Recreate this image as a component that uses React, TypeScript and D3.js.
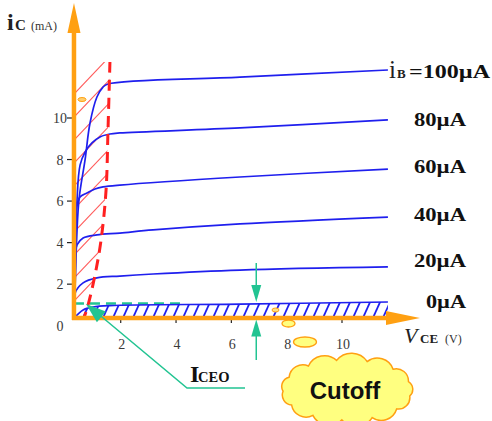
import React from 'react';
import * as d3 from 'd3';

const W = 492;
const H = 421;

// Tick values / labels
const xTickValues = [2, 4, 6, 8, 10];
const xTickLabels = ['2', '4', '6', '8', '10'];
const yTickValues = [2, 4, 6, 8, 10];
const yTickLabels = ['0', '2', '4', '6', '8', '10'];

// Output characteristic curves, [V_CE (V), i_C (mA)]
const ibLabels = ['=100µA', '80µA', '60µA', '40µA', '20µA', '0µA'];
const curve100: [number, number][] = [[0.33, 0.39], [0.38, 3.16], [0.49, 6.05], [0.71, 7.98], [0.89, 9.76], [1.14, 11.01], [1.36, 11.49], [1.54, 11.64], [6.31, 11.97], [11.66, 12.31]];
const curve80: [number, number][] = [[0.33, 0.39], [0.37, 3.16], [0.42, 6.05], [0.53, 7.73], [0.71, 8.36], [0.96, 8.8], [1.25, 9.09], [1.61, 9.23], [1.97, 9.28], [6.31, 9.52], [11.66, 9.91]];
const curve60: [number, number][] = [[0.33, 0.39], [0.35, 3.0], [0.38, 5.33], [0.42, 5.81], [0.53, 6.2], [0.78, 6.39], [1.07, 6.58], [1.36, 6.68], [1.97, 6.77], [6.31, 7.16], [11.66, 7.54]];
const curve40: [number, number][] = [[0.33, 0.39], [0.35, 3.4], [0.42, 3.89], [0.64, 4.22], [1.14, 4.37], [1.97, 4.46], [3.17, 4.61], [6.31, 4.9], [11.66, 5.23]];
const curve20: [number, number][] = [[0.33, 0.39], [0.35, 1.57], [0.64, 2.06], [1.14, 2.3], [1.97, 2.39], [3.17, 2.49], [6.31, 2.68], [11.66, 2.83]];
const curve0: [number, number][] = [[0.33, 0.39], [0.64, 0.76], [1.0, 0.9], [1.61, 0.97], [6.31, 1.04], [11.66, 1.14]];
const curves = [curve100, curve80, curve60, curve40, curve20, curve0];

// Saturation boundary (red dashed), [V, mA]
const satLocus: [number, number][] = [[1.61, 12.7], [1.54, 9.42], [1.47, 6.53], [1.29, 4.13], [1.07, 2.44], [0.82, 1.0], [0.67, 0.37]];

// I_CEO level and marker position
const iceo = 1.07;
const iceoDashEnd = 4.2;
const cutoffMarkerV = 6.9;

// Axis origin (as drawn) and arrow tips, in data units
const axisOrigin: [number, number] = [0.31, 0.37];
const xAxisTip = 12.82;
const yAxisTip = 15.54;

const x = d3.scaleLinear().domain([0, 10]).range([65.4, 342]);
const y = d3.scaleLinear().domain([0, 10]).range([325.7, 118]);

const BLUE = '#1f1fee';
const ORANGE = '#ffa012';
const GREEN = '#22c492';
const RED = '#ff2020';
const SERIF = 'Liberation Serif, DejaVu Serif, Times New Roman, serif';
const SANS = 'Liberation Sans, Arial, sans-serif';

function cloudPath(cx: number, cy: number, rx: number, ry: number, n: number) {
  const pts = d3.range(n).map((i) => {
    const a = (i / n) * 2 * Math.PI + 0.2;
    return [cx + rx * Math.cos(a), cy + ry * Math.sin(a)];
  });
  let d = `M${pts[0][0]},${pts[0][1]}`;
  for (let i = 0; i < n; i++) {
    const q = pts[i];
    const p = pts[(i + 1) % n];
    const dist = Math.hypot(p[0] - q[0], p[1] - q[1]);
    const r = dist * 0.62;
    d += ` A${r},${r} 0 0 1 ${p[0]},${p[1]}`;
  }
  return d + 'Z';
}

function arrowHead(tip: [number, number], from: [number, number], len: number, half: number) {
  const dx = tip[0] - from[0];
  const dy = tip[1] - from[1];
  const L = Math.hypot(dx, dy);
  const ux = dx / L;
  const uy = dy / L;
  const bx = tip[0] - ux * len;
  const by = tip[1] - uy * len;
  return `M${tip[0]},${tip[1]} L${bx - uy * half},${by + ux * half} L${bx + uy * half},${by - ux * half} Z`;
}

const serif = { fontFamily: SERIF };

export default function App() {
  const line = d3
    .line<[number, number]>()
    .x((d) => x(d[0]))
    .y((d) => y(d[1]))
    .curve(d3.curveCatmullRom.alpha(0.5));

  const ox = x(axisOrigin[0]);
  const oy = y(axisOrigin[1]);
  const xTip = x(xAxisTip);
  const yTip = y(yAxisTip);

  // Clip region for red hatching: between y-axis and saturation locus
  const satTop = satLocus[0];
  const redClip =
    `M${ox},${y(satTop[1])} ` +
    satLocus.map((p) => `L${x(p[0])},${y(p[1])}`).join(' ') +
    ` L${ox},${oy} Z`;
  const redHatch = d3.range(0, 10).map((k) => {
    const c = 94 + 23 * k;
    return { x1: ox, y1: c, x2: ox + 60, y2: c - 63 };
  });

  // Clip region for blue hatching: under 0 µA curve
  const c0end = curve0[curve0.length - 1];
  const blueClip = line(curve0) + ` L${x(c0end[0])},${oy} L${ox},${oy} Z`;
  const blueHatch = d3.range(0, 32).map((k) => {
    const bx = 72 + 10 * k;
    return { x1: bx, y1: oy + 2, x2: bx + 9, y2: oy - 18 };
  });

  const mx = x(cutoffMarkerV);
  const yIceo = y(iceo);
  const iceoTip: [number, number] = [86, 304];
  const iceoFrom: [number, number] = [187, 388];
  const labelYs = [78, 126, 173, 221, 267, 308];

  return (
    <svg width={W} height={H} style={{ position: 'absolute', left: 0, top: 0, background: '#fff' }}>
      <defs>
        <clipPath id="redClip">
          <path d={redClip} />
        </clipPath>
        <clipPath id="blueClip">
          <path d={blueClip} />
        </clipPath>
      </defs>

      {/* red hatching (saturation region) */}
      <g clipPath="url(#redClip)">
        {redHatch.map((l, i) => (
          <line key={i} x1={l.x1} y1={l.y1} x2={l.x2} y2={l.y2} stroke="#ff5a5a" strokeWidth={1.1} />
        ))}
      </g>

      {/* blue hatching (cutoff region) */}
      <g clipPath="url(#blueClip)">
        {blueHatch.map((l, i) => (
          <line key={i} x1={l.x1} y1={l.y1} x2={l.x2} y2={l.y2} stroke={BLUE} strokeWidth={1.8} />
        ))}
      </g>

      {/* y ticks */}
      {yTickValues.map((v) => (
        <line key={v} x1={ox - 7} x2={ox} y1={y(v)} y2={y(v)} stroke="#222" strokeWidth={1.2} />
      ))}
      {[0, ...yTickValues].map((v, i) => (
        <text key={v} x={60} y={y(v) + 5} textAnchor="middle" fontSize={14} fill="#3a3a3a" style={serif}>
          {yTickLabels[i]}
        </text>
      ))}
      {/* x ticks */}
      {xTickValues.map((v) => (
        <line key={v} x1={x(v)} x2={x(v)} y1={oy} y2={oy + 5} stroke="#222" strokeWidth={1.2} />
      ))}
      {xTickValues.map((v, i) => (
        <text key={v} x={x(v) + 1} y={349} textAnchor="middle" fontSize={14} fill="#3a3a3a" style={serif}>
          {xTickLabels[i]}
        </text>
      ))}

      {/* green dashed ICEO level */}
      <line x1={ox} x2={x(iceoDashEnd)} y1={yIceo} y2={yIceo} stroke={GREEN} strokeWidth={2.5} strokeDasharray="10,6" />

      {/* curves */}
      {curves.map((c, i) => (
        <path key={i} d={line(c) || ''} fill="none" stroke={BLUE} strokeWidth={1.7} />
      ))}

      {/* saturation boundary */}
      <path d={line(satLocus) || ''} fill="none" stroke={RED} strokeWidth={3} strokeDasharray="11,7" />

      {/* axes */}
      <line x1={ox} y1={oy + 2} x2={ox} y2={yTip + 28} stroke={ORANGE} strokeWidth={4.5} />
      <path d={`M${ox},${yTip} L${ox - 6.5},${yTip + 30} L${ox + 6.5},${yTip + 30} Z`} fill={ORANGE} />
      <line x1={ox - 2} y1={oy} x2={xTip - 32} y2={oy} stroke={ORANGE} strokeWidth={4.5} />
      <path d={`M${xTip},${oy} L${xTip - 34},${oy - 7} L${xTip - 34},${oy + 7} Z`} fill={ORANGE} />

      {/* axis titles */}
      <text x={7} y={30} fontSize={24} fontWeight="bold" fill="#222" style={serif}>i</text>
      <text x={15} y={30} fontSize={15} fontWeight="bold" fill="#222" style={serif}>C</text>
      <text x={31} y={30} fontSize={12} fill="#333" style={serif}>(mA)</text>

      <text x={404} y={343} fontSize={22} fontStyle="italic" fill="#222" style={serif}>V</text>
      <text x={420} y={343} fontSize={13} fontWeight="bold" fill="#222" style={serif}>CE</text>
      <text x={445} y={343} fontSize={12} fill="#333" style={serif}>(V)</text>

      {/* curve labels */}
      <text x={389} y={labelYs[0]} fontSize={25} fill="#222" style={serif}>i</text>
      <text x={397} y={labelYs[0]} fontSize={13} fontWeight="bold" fill="#222" style={serif}>B</text>
      <text x={409} y={labelYs[0]} fontSize={19} fontWeight="bold" fill="#111" style={serif} textLength={81} lengthAdjust="spacingAndGlyphs">
        {ibLabels[0]}
      </text>
      {[1, 2, 3, 4].map((i) => (
        <text key={i} x={414} y={labelYs[i]} fontSize={19} fontWeight="bold" fill="#111" style={serif} textLength={52} lengthAdjust="spacingAndGlyphs">
          {ibLabels[i]}
        </text>
      ))}
      <text x={426} y={labelYs[5]} fontSize={19} fontWeight="bold" fill="#111" style={serif} textLength={40} lengthAdjust="spacingAndGlyphs">
        {ibLabels[5]}
      </text>

      {/* cutoff vertical arrows */}
      <line x1={mx} x2={mx} y1={263} y2={288} stroke={GREEN} strokeWidth={1.5} />
      <path d={arrowHead([mx, 302], [mx, 263], 17, 5)} fill={GREEN} />
      <line x1={mx} x2={mx} y1={333} y2={360} stroke={GREEN} strokeWidth={1.5} />
      <path d={arrowHead([mx, 319.5], [mx, 360], 17, 5)} fill={GREEN} />

      {/* ICEO pointer */}
      <polyline points={`245,388 ${iceoFrom[0]},${iceoFrom[1]} ${iceoTip[0] + 10},${iceoTip[1] + 8}`} fill="none" stroke={GREEN} strokeWidth={1.5} />
      <path d={arrowHead(iceoTip, iceoFrom, 20, 7)} fill={GREEN} />
      <text x={190} y={382} fontSize={24} fontWeight="bold" fill="#111" style={serif}>I</text>
      <text x={198} y={382} fontSize={14.5} fontWeight="bold" fill="#111" style={serif}>CEO</text>

      {/* callout bubbles */}
      <ellipse cx={82} cy={99.5} rx={4} ry={2} fill="#ffd070" stroke={ORANGE} strokeWidth={1} />
      <ellipse cx={275.5} cy={310} rx={3.5} ry={2} fill="#ffe080" stroke={ORANGE} strokeWidth={1} />
      <ellipse cx={288.5} cy={323.5} rx={6.5} ry={3.5} fill="#ffff80" stroke={ORANGE} strokeWidth={1.3} />
      <ellipse cx={305} cy={342} rx={11.5} ry={5} fill="#ffff80" stroke={ORANGE} strokeWidth={1.3} />
      <path d={cloudPath(347, 390, 64, 30, 13)} fill="#ffff80" stroke={ORANGE} strokeWidth={1.5} />
      <rect x={410} y={403} width={82} height={18} fill="#fff" />
      <text x={345} y={399} textAnchor="middle" fontSize={24} fontWeight="bold" fill="#111" style={{ fontFamily: SANS }}>
        Cutoff
      </text>
    </svg>
  );
}
